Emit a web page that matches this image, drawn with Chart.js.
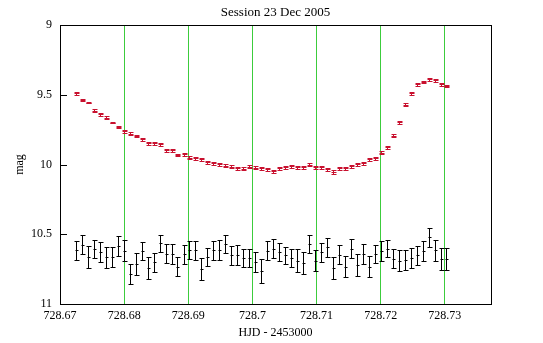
<!DOCTYPE html>
<html>
<head>
<meta charset="utf-8">
<script src="https://cdn.jsdelivr.net/npm/chart.js@4/dist/chart.umd.min.js"></script>
<style>
  html, body { margin: 0; padding: 0; background: #ffffff; }
  #wrap { width: 543px; height: 343px; }
</style>
</head>
<body>
<div id="wrap"><canvas id="c" width="543" height="343"></canvas></div>
<script>
// Observation times (HJD - 2453000), shared by both stars
const times = [
  728.67248, 728.67341, 728.67434, 728.67528, 728.67621, 728.67714, 728.67807, 728.67900,
  728.67994, 728.68087, 728.68180, 728.68273, 728.68366, 728.68460, 728.68553, 728.68646,
  728.68739, 728.68832, 728.68926, 728.69019, 728.69112, 728.69205, 728.69298, 728.69392,
  728.69485, 728.69578, 728.69671, 728.69764, 728.69858, 728.69951, 728.70044, 728.70137,
  728.70230, 728.70324, 728.70417, 728.70510, 728.70603, 728.70696, 728.70790, 728.70883,
  728.70976, 728.71069, 728.71162, 728.71256, 728.71349, 728.71442, 728.71535, 728.71628,
  728.71722, 728.71815, 728.71908, 728.72001, 728.72094, 728.72188, 728.72281, 728.72374,
  728.72467, 728.72560, 728.72654, 728.72747, 728.72840, 728.72933, 728.73026
];

// Variable star magnitudes and errors
const varMag = [
  9.489, 9.537, 9.556, 9.616, 9.639, 9.666, 9.699, 9.732,
  9.761, 9.780, 9.797, 9.818, 9.847, 9.847, 9.854, 9.897,
  9.897, 9.931, 9.926, 9.952, 9.954, 9.961, 9.983, 9.990,
  9.997, 10.009, 10.016, 10.026, 10.031, 10.016, 10.024, 10.026,
  10.033, 10.047, 10.026, 10.019, 10.011, 10.019, 10.019, 10.000,
  10.019, 10.019, 10.033, 10.054, 10.026, 10.026, 10.011, 9.997,
  9.990, 9.961, 9.954, 9.916, 9.875, 9.795, 9.696, 9.573,
  9.489, 9.424, 9.408, 9.389, 9.396, 9.424, 9.435
];
const varErr = [
  0.011, 0.006, 0.006, 0.011, 0.011, 0.011, 0.006, 0.006,
  0.011, 0.011, 0.006, 0.011, 0.011, 0.011, 0.011, 0.011,
  0.011, 0.006, 0.011, 0.011, 0.011, 0.011, 0.011, 0.011,
  0.011, 0.011, 0.011, 0.011, 0.011, 0.011, 0.011, 0.011,
  0.011, 0.011, 0.011, 0.011, 0.011, 0.011, 0.011, 0.014,
  0.011, 0.011, 0.011, 0.011, 0.011, 0.011, 0.011, 0.011,
  0.011, 0.011, 0.011, 0.011, 0.011, 0.011, 0.011, 0.011,
  0.011, 0.011, 0.006, 0.011, 0.011, 0.011, 0.006
];

// Check star magnitudes and errors
const chkMag = [
  10.616, 10.575, 10.661, 10.607, 10.628, 10.666, 10.664, 10.582,
  10.618, 10.786, 10.714, 10.618, 10.739, 10.700, 10.566, 10.639,
  10.641, 10.734, 10.644, 10.612, 10.616, 10.747, 10.663, 10.616,
  10.611, 10.570, 10.651, 10.651, 10.670, 10.670, 10.699, 10.766,
  10.618, 10.603, 10.627, 10.651, 10.670, 10.689, 10.706, 10.570,
  10.689, 10.630, 10.594, 10.742, 10.646, 10.734, 10.603, 10.723,
  10.641, 10.734, 10.641, 10.623, 10.603, 10.675, 10.689, 10.682,
  10.670, 10.651, 10.623, 10.523, 10.616, 10.675, 10.675
];
const chkErr = [
  0.066, 0.067, 0.078, 0.066, 0.069, 0.075, 0.072, 0.072,
  0.075, 0.074, 0.077, 0.066, 0.079, 0.068, 0.062, 0.066,
  0.072, 0.068, 0.069, 0.065, 0.066, 0.078, 0.066, 0.066,
  0.072, 0.063, 0.069, 0.072, 0.067, 0.067, 0.075, 0.087,
  0.069, 0.066, 0.066, 0.063, 0.067, 0.080, 0.079, 0.066,
  0.074, 0.068, 0.069, 0.080, 0.069, 0.075, 0.066, 0.078,
  0.072, 0.075, 0.066, 0.072, 0.063, 0.066, 0.074, 0.072,
  0.072, 0.069, 0.072, 0.066, 0.075, 0.078, 0.078
];

// Axis ticks
const xTickValues = [728.67, 728.68, 728.69, 728.70, 728.71, 728.72, 728.73];
const xTickLabels = ['728.67', '728.68', '728.69', '728.7', '728.71', '728.72', '728.73'];
const yTickValues = [9, 9.5, 10, 10.5, 11];
const yTickLabels = ['9', '9.5', '10', '10.5', '11'];

const SERIF = '"Liberation Serif", "Times New Roman", serif';
const GRID_GREEN = '#3ccc3c';
const VAR_RED = '#c8102e';

function points(mags) {
  return times.map((t, i) => ({ x: t, y: mags[i] }));
}

// Vertical error bars with caps and a centre mark, drawn through the chart scales
const errorBars = {
  id: 'errorBars',
  afterDatasetsDraw(chart) {
    const ctx = chart.ctx;
    const xs = chart.scales.x, ys = chart.scales.y;
    ctx.save();
    chart.data.datasets.forEach((ds) => {
      const capHalf = ds.capHalf, midHalf = ds.midHalf;
      ctx.strokeStyle = ds.barColor;
      ctx.lineWidth = 1;
      ds.data.forEach((p, i) => {
        const e = ds.errors[i];
        const px = Math.round(xs.getPixelForValue(p.x)) + 0.5;
        const yTop = Math.round(ys.getPixelForValue(p.y - e)) + 0.5;
        const yBot = Math.round(ys.getPixelForValue(p.y + e)) + 0.5;
        const yMid = Math.round(ys.getPixelForValue(p.y)) + 0.5;
        ctx.beginPath();
        ctx.moveTo(px, yTop); ctx.lineTo(px, yBot);
        ctx.moveTo(px - capHalf, yTop); ctx.lineTo(px + capHalf + 1, yTop);
        ctx.moveTo(px - capHalf, yBot); ctx.lineTo(px + capHalf + 1, yBot);
        ctx.moveTo(px - midHalf, yMid); ctx.lineTo(px + midHalf + 1, yMid);
        ctx.stroke();
      });
    });
    ctx.restore();
  }
};

// Plot frame and short inward ticks on the magnitude axis
const frame = {
  id: 'frame',
  beforeDatasetsDraw(chart) {
    const { ctx, chartArea: a } = chart;
    const ys = chart.scales.y;
    ctx.save();
    ctx.strokeStyle = '#000000';
    ctx.lineWidth = 1;
    ctx.strokeRect(Math.round(a.left) + 0.5, Math.round(a.top) + 0.5,
                   Math.round(a.right - a.left), Math.round(a.bottom - a.top));
    ctx.beginPath();
    yTickValues.forEach((v) => {
      if (v === ys.min || v === ys.max) return;
      const py = Math.round(ys.getPixelForValue(v)) + 0.5;
      ctx.moveTo(a.left, py);
      ctx.lineTo(a.left + 7, py);
    });
    ctx.stroke();
    ctx.restore();
  }
};

new Chart(document.getElementById('c'), {
  type: 'scatter',
  data: {
    datasets: [
      {
        label: 'variable',
        data: points(varMag),
        errors: varErr,
        barColor: VAR_RED,
        capHalf: 2,
        midHalf: 2,
        pointRadius: 0,
        pointHoverRadius: 0,
        showLine: false
      },
      {
        label: 'check',
        data: points(chkMag),
        errors: chkErr,
        barColor: '#000000',
        capHalf: 2,
        midHalf: 1,
        pointRadius: 0,
        pointHoverRadius: 0,
        showLine: false
      }
    ]
  },
  options: {
    responsive: false,
    animation: false,
    devicePixelRatio: 1,
    layout: { padding: { left: 0, right: 52, top: 0, bottom: 0 } },
    plugins: {
      legend: { display: false },
      tooltip: { enabled: false },
      title: {
        display: true,
        fullSize: false,
        text: 'Session 23 Dec 2005',
        color: '#000000',
        font: { family: SERIF, size: 13, weight: 'normal' },
        padding: { top: 5, bottom: 4.4 }
      }
    },
    scales: {
      x: {
        type: 'linear',
        min: 728.67,
        max: 728.7372,
        afterBuildTicks(axis) { axis.ticks = xTickValues.map((v) => ({ value: v })); },
        afterFit(axis) { axis.height = 39; },
        border: { display: false },
        grid: {
          drawTicks: false,
          lineWidth: 1,
          color: (c) => (c.index === 0 ? 'rgba(0,0,0,0)' : GRID_GREEN)
        },
        ticks: {
          autoSkip: false,
          maxRotation: 0,
          padding: 5,
          color: '#000000',
          font: { family: SERIF, size: 12 },
          callback: (v, i) => xTickLabels[i]
        },
        title: {
          display: true,
          text: 'HJD - 2453000',
          color: '#000000',
          font: { family: SERIF, size: 12 },
          padding: { top: 3, bottom: 3 }
        }
      },
      y: {
        type: 'linear',
        reverse: true,
        min: 9,
        max: 11,
        afterBuildTicks(axis) { axis.ticks = yTickValues.map((v) => ({ value: v })); },
        afterFit(axis) { axis.width = 60; },
        border: { display: false },
        grid: { display: false, drawTicks: false },
        ticks: {
          padding: 8,
          color: '#000000',
          font: { family: SERIF, size: 12 },
          callback: (v, i) => yTickLabels[i]
        },
        title: {
          display: true,
          text: 'mag',
          color: '#000000',
          font: { family: SERIF, size: 12 },
          padding: { top: 13, bottom: 0 }
        }
      }
    }
  },
  plugins: [frame, errorBars]
});
</script>
</body>
</html>
